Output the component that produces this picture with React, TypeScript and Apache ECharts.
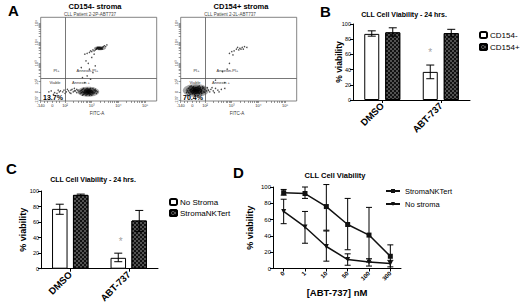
import React, { useEffect, useRef } from 'react';
import * as echarts from 'echarts';

const FONT = '"Liberation Sans", Arial, Helvetica, sans-serif';

// ---------- Panel A: flow cytometry dot plots (axis units 0..100) ----------
const flowXTicks = [0, 10, 21, 44, 67, 90];
const flowXTickLabels = ['-140', '0', '10²', '10³', '10⁴', '10⁵'];
const flowYTicks = [1, 11, 23, 45, 70, 93];
const flowYTickLabels = ['-137', '0', '10²', '10³', '10⁴', '10⁵'];
const gateX = 21;
const gateY = 27.5;

const leftDots: number[][] = [
  [40, 11], [41, 10], [42, 12], [39, 10], [43, 11], [40, 13], [38, 11], [41, 9], [44, 10], [42, 9], [39, 12], [37, 10],
  [43, 13], [45, 11], [41, 12], [40, 8], [38, 9], [44, 12], [42, 14], [36, 11], [46, 10], [43, 8], [39, 14], [41, 14],
  [34, 9], [35, 13], [47, 12], [48, 9], [33, 11], [45, 15], [37, 15], [47, 14], [36, 7], [44, 7], [32, 13], [49, 11],
  [35, 10], [36, 14], [38, 13], [40, 15], [42, 7], [45, 9], [46, 13], [48, 12], [37, 8], [39, 7], [43, 15], [34, 12],
  [30, 12], [28, 11], [26, 13], [24, 12], [22, 11], [20, 13], [27, 14], [25, 10], [29, 15], [31, 10], [23, 14], [19, 11],
  [17, 12], [21, 9], [12, 10], [9, 12], [14, 9], [7, 11], [15, 13], [11, 8], [16, 11], [26, 9], [29, 12], [31, 14],
  [38, 22], [40, 30], [42, 38], [41, 45], [44, 52], [36, 28], [45, 34], [39, 48], [43, 26], [47, 42], [35, 40], [46, 56],
  [49, 63], [50, 62], [51, 64], [52, 63], [48, 62], [53, 64], [50, 64], [47, 61], [52, 62], [54, 65], [49, 64], [51, 62],
  [46, 60], [44, 59], [42, 58], [40, 57], [55, 66], [56, 65], [45, 61], [43, 60], [48, 63], [53, 62], [57, 67], [38, 56],
];
const leftCores: number[][] = [[41, 11]];
const leftUpperCores: number[][] = [[51, 63]];

const rightDots: number[][] = [
  [13, 12], [14, 13], [12, 11], [15, 12], [11, 13], [13, 14], [14, 10], [16, 13], [12, 15], [10, 12], [15, 15], [13, 9],
  [17, 11], [11, 10], [16, 15], [14, 16], [9, 14], [12, 13], [15, 10], [18, 13], [10, 9], [17, 16], [13, 16], [11, 15],
  [6, 12], [7, 15], [5, 10], [8, 17], [19, 15], [20, 11], [21, 14], [8, 8], [18, 9], [9, 18], [16, 18], [22, 12], [6, 7], [19, 17],
  [7, 10], [8, 13], [10, 16], [12, 8], [16, 9], [18, 11], [20, 16], [9, 11], [15, 17], [11, 17], [17, 14], [21, 10],
  [24, 13], [26, 14], [28, 12], [30, 15], [25, 11], [27, 16], [32, 13], [35, 14], [23, 16], [29, 10], [38, 15], [33, 11],
  [30, 25], [36, 35], [42, 45], [45, 55], [40, 38], [38, 22],
  [48, 62], [51, 63], [53, 64], [50, 61], [55, 65], [46, 60], [52, 62], [57, 64], [44, 59], [49, 64], [54, 62], [42, 57],
];
const rightCores: number[][] = [[13, 12.5]];

// ---------- Panel B ----------
const bCategories = ['DMSO', 'ABT-737'];
const bCD154neg = [87, 37];
const bCD154negErr = [[84, 91], [28, 46]];
const bCD154pos = [89, 88];
const bCD154posErr = [[84, 95], [83, 93]];
const bAsterisk = [[1, 67]];

// ---------- Panel C ----------
const cCategories = ['DMSO', 'ABT-737'];
const cNoStroma = [77, 14];
const cNoStromaErr = [[70, 83], [9, 20]];
const cStroma = [95, 62];
const cStromaErr = [[94, 96], [48, 75]];
const cAsterisk = [[1, 39]];

// ---------- Panel D ----------
const dDoses = ['0', '1', '10', '50', '100', '300'];
const dStroma = [93, 92, 76, 54, 41, 15];
const dStromaErr = [[90, 97], [86, 100], [47, 103], [23, 86], [8, 75], [2, 29]];
const dNoStroma = [70, 51, 27, 11, 8, 6];
const dNoStromaErr = [[55, 85], [31, 70], [9, 46], [4, 18], [3, 12], [0, 10]];

const logFractions = [0.301, 0.477, 0.602, 0.699, 0.778, 0.845, 0.903, 0.954];
function minorTicks(decades: number[]) {
  const out: number[] = [];
  for (let i = 0; i < decades.length - 1; i++) {
    const a = decades[i], b = decades[i + 1];
    logFractions.forEach((f) => out.push(a + (b - a) * f));
  }
  return out;
}

const checker = {
  symbol: 'rect',
  symbolSize: 0.55,
  color: '#fff',
  backgroundColor: '#111',
  dashArrayX: [[2, 2], [0, 2, 2, 0]],
  dashArrayY: [2, 0],
  rotation: 0,
};

function errorSeries(idx: number, data: number[][], offset: number, capW: number) {
  return {
    type: 'custom',
    xAxisIndex: idx,
    yAxisIndex: idx,
    z: 5,
    silent: true,
    clip: false,
    encode: { x: 0, y: [1, 2] },
    data: data.map((e, i) => [i, e[0], e[1]]),
    renderItem: (_p: any, api: any) => {
      const x = api.value(0);
      const lo = api.coord([x, api.value(1)]);
      const hi = api.coord([x, api.value(2)]);
      const cx = lo[0] + offset;
      const st = { stroke: '#000', lineWidth: 1 };
      return {
        type: 'group',
        children: [
          { type: 'line', shape: { x1: cx, y1: lo[1], x2: cx, y2: hi[1] }, style: st },
          { type: 'line', shape: { x1: cx - capW / 2, y1: hi[1], x2: cx + capW / 2, y2: hi[1] }, style: st },
          { type: 'line', shape: { x1: cx - capW / 2, y1: lo[1], x2: cx + capW / 2, y2: lo[1] }, style: st },
        ],
      };
    },
  };
}

function flowAxes(grid: number) {
  const xMinor = minorTicks([21, 44, 67, 90]);
  const yMinor = minorTicks([23, 45, 70, 93]);
  return {
    x: {
      type: 'value', gridIndex: grid, min: 0, max: 100,
      axisLine: { show: false }, splitLine: { show: false },
      axisTick: { show: true, length: 2, customValues: [...flowXTicks, 3, 6, 13, 16, ...xMinor], lineStyle: { color: '#555', width: 0.6 } },
      axisLabel: {
        customValues: flowXTicks, fontSize: 4, margin: 2, color: '#333', fontFamily: FONT,
        formatter: (v: number) => flowXTickLabels[flowXTicks.indexOf(v)] ?? '',
      },
    },
    y: {
      type: 'value', gridIndex: grid, min: 0, max: 100,
      axisLine: { show: false }, splitLine: { show: false },
      axisTick: { show: true, length: 2, customValues: [...flowYTicks, ...yMinor], lineStyle: { color: '#555', width: 0.6 } },
      axisLabel: {
        customValues: flowYTicks, fontSize: 4, margin: 2, rotate: 90, color: '#333', fontFamily: FONT,
        formatter: (v: number) => flowYTickLabels[flowYTicks.indexOf(v)] ?? '',
      },
    },
  };
}

// density cloud drawn as stacked translucent ellipses around a cluster centre
function cloud(grid: number, data: number[][], rings: number[][]) {
  return {
    type: 'custom', xAxisIndex: grid, yAxisIndex: grid, silent: true, z: 4,
    encode: { x: 0, y: 1 },
    data,
    renderItem: (_p: any, api: any) => {
      const c = api.coord([api.value(0), api.value(1)]);
      return {
        type: 'group',
        children: rings.map((r) => ({
          type: 'ellipse',
          shape: { cx: c[0], cy: c[1], rx: r[0], ry: r[1] },
          style: { fill: `rgba(0,0,0,${r[2]})`, stroke: 'none', lineWidth: 0 },
        })),
      };
    },
  };
}

function dotSeries(grid: number, dots: number[][]) {
  return {
    type: 'scatter', xAxisIndex: grid, yAxisIndex: grid, silent: true, data: dots,
    symbolSize: 1.5, itemStyle: { color: '#222', opacity: 0.8, borderWidth: 0 }, z: 3,
    markLine: {
      silent: true, symbol: 'none', label: { show: false },
      lineStyle: { color: '#555', width: 0.8, type: 'solid' },
      data: [{ xAxis: gateX }, { yAxis: gateY }],
    },
  };
}

function txt(text: string, x: number, y: number, size: number, bold = false, align = 'center', color = '#000', rotation = 0) {
  return {
    type: 'text', x, y, rotation, silent: true, z: 100,
    style: {
      text, fill: color, font: `${bold ? 'bold ' : ''}${size}px ${FONT}`,
      textAlign: align, textVerticalAlign: 'middle',
    },
  };
}

export default function App() {
  const ref = useRef<HTMLDivElement>(null);
  useEffect(() => {
    if (!ref.current) return;
    const chart = echarts.init(ref.current, undefined, { renderer: 'svg' });
    const fa = flowAxes(0);
    const fb = flowAxes(1);
    const barYAxis = (grid: number, name: string, gap: number, labelSize: number, nameSize: number) => ({
      type: 'value', gridIndex: grid, min: 0, max: 100, interval: 20,
      name, nameLocation: 'middle', nameGap: gap, nameMoveOverlap: false,
      nameTextStyle: { fontSize: nameSize, fontWeight: 'bold', fontFamily: FONT, color: '#000' },
      axisLine: { show: true, lineStyle: { color: '#000', width: 1 } },
      axisTick: { show: true, length: 3, lineStyle: { color: '#000' } },
      axisLabel: { fontSize: labelSize, margin: 2, color: '#000', fontFamily: FONT },
      splitLine: { show: false },
    });
    const catXAxis = (grid: number, data: string[], size: number, extra: any = {}) => ({
      type: 'category', gridIndex: grid, data,
      axisLine: { show: true, lineStyle: { color: '#000', width: 1 } },
      axisTick: { show: true, alignWithLabel: true, length: 3, lineStyle: { color: '#000' } },
      axisLabel: { rotate: 45, interval: 0, fontSize: size, fontWeight: 'bold', color: '#000', fontFamily: FONT, margin: 4 },
      ...extra,
    });

    const option: any = {
      animation: false,
      backgroundColor: '#fff',
      textStyle: { fontFamily: FONT },
      grid: [
        { left: 40.7, top: 17.3, width: 116, height: 83.7, show: true, borderColor: '#666', borderWidth: 0.8, backgroundColor: 'transparent' },
        { left: 180.7, top: 17.3, width: 116, height: 83.7, show: true, borderColor: '#666', borderWidth: 0.8, backgroundColor: 'transparent' },
        { left: 353, top: 24, width: 117, height: 76 },
        { left: 41, top: 191, width: 117, height: 77.7 },
        { left: 273, top: 187, width: 128, height: 81.5 },
      ],
      xAxis: [
        fa.x, fb.x,
        catXAxis(2, bCategories, 9.5),
        catXAxis(3, cCategories, 9.5),
        catXAxis(4, dDoses, 6, {
          name: '[ABT-737] nM', nameLocation: 'middle', nameGap: 19, nameMoveOverlap: false,
          nameTextStyle: { fontSize: 9.5, fontWeight: 'bold', fontFamily: FONT, color: '#000' },
        }),
      ],
      yAxis: [
        fa.y, fb.y,
        barYAxis(2, '', 12, 5.5, 8.5),
        barYAxis(3, '% viability', 14, 5.5, 9),
        barYAxis(4, '% viability', 18.5, 6, 9),
      ],
      legend: [
        {
          left: 474, top: 26, orient: 'vertical', itemWidth: 7, itemHeight: 6, itemGap: 4,
          data: ['CD154-', 'CD154+'], selectedMode: false,
          textStyle: { fontSize: 8, color: '#000', fontFamily: FONT, padding: [0, 0, 0, -2] },
        },
        {
          left: 164, top: 193, orient: 'vertical', itemWidth: 7, itemHeight: 6, itemGap: 3,
          data: ['No Stroma', 'StromaNKTert'], selectedMode: false,
          textStyle: { fontSize: 8, color: '#000', fontFamily: FONT, padding: [0, 0, 0, -2] },
        },
        {
          left: 380, top: 182, orient: 'vertical', itemWidth: 14, itemHeight: 5, itemGap: 5,
          data: ['D:StromaNKTert', 'D:No stroma'], selectedMode: false,
          formatter: (n: string) => n.replace('D:', ''),
          textStyle: { fontSize: 7.5, color: '#000', fontFamily: FONT },
        },
      ],
      series: [
        cloud(0, leftCores, [[11, 5, 0.35], [8, 3.8, 0.45], [5, 2.6, 0.6], [2.5, 1.5, 0.7]]),
        cloud(0, leftUpperCores, [[6, 2, 0.4], [3, 1.2, 0.6]]),
        dotSeries(0, leftDots),
        cloud(1, rightCores, [[13, 6.5, 0.35], [10, 5, 0.45], [6.5, 3.5, 0.6], [3.5, 2, 0.7]]),
        dotSeries(1, rightDots),
        // Panel B
        {
          name: 'CD154-', type: 'bar', xAxisIndex: 2, yAxisIndex: 2, data: bCD154neg, barWidth: 15, barGap: '40%',
          itemStyle: { color: '#fff', borderColor: '#000', borderWidth: 1 },
        },
        {
          name: 'CD154+', type: 'bar', xAxisIndex: 2, yAxisIndex: 2, data: bCD154pos, barWidth: 15, barGap: '40%',
          itemStyle: { color: '#111', borderColor: '#000', borderWidth: 1, decal: checker },
        },
        errorSeries(2, bCD154negErr, -10.5, 8),
        errorSeries(2, bCD154posErr, 10.5, 8),
        {
          type: 'scatter', xAxisIndex: 2, yAxisIndex: 2, data: bAsterisk, symbolSize: 1, silent: true,
          itemStyle: { color: 'transparent' },
          label: { show: true, formatter: '*', position: 'inside', offset: [-10.5, 3], fontSize: 10, color: '#888' },
        },
        // Panel C
        {
          name: 'No Stroma', type: 'bar', xAxisIndex: 3, yAxisIndex: 3, data: cNoStroma, barWidth: 15.5, barGap: '35%',
          itemStyle: { color: '#fff', borderColor: '#000', borderWidth: 1 },
        },
        {
          name: 'StromaNKTert', type: 'bar', xAxisIndex: 3, yAxisIndex: 3, data: cStroma, barWidth: 15.5, barGap: '35%',
          itemStyle: { color: '#111', borderColor: '#000', borderWidth: 1, decal: checker },
        },
        errorSeries(3, cNoStromaErr, -10.5, 8),
        errorSeries(3, cStromaErr, 10.5, 8),
        {
          type: 'scatter', xAxisIndex: 3, yAxisIndex: 3, data: cAsterisk, symbolSize: 1, silent: true,
          itemStyle: { color: 'transparent' },
          label: { show: true, formatter: '*', position: 'inside', offset: [-8, 3], fontSize: 10, color: '#888' },
        },
        // Panel D
        errorSeries(4, dStromaErr, 0, 6),
        errorSeries(4, dNoStromaErr, 0, 6),
        {
          name: 'D:StromaNKTert', type: 'line', xAxisIndex: 4, yAxisIndex: 4, data: dStroma, z: 6,
          symbol: 'rect', symbolSize: 5, lineStyle: { color: '#111', width: 1.5 }, itemStyle: { color: '#111' },
        },
        {
          name: 'D:No stroma', type: 'line', xAxisIndex: 4, yAxisIndex: 4, data: dNoStroma, z: 6,
          symbol: 'triangle', symbolRotate: 180, symbolSize: 5, lineStyle: { color: '#111', width: 1.5 }, itemStyle: { color: '#111' },
        },
      ],
      graphic: [
        txt('A', 8, 10, 15, true, 'left'),
        txt('B', 320, 11, 15, true, 'left'),
        txt('C', 6, 168, 15, true, 'left'),
        txt('D', 233, 172, 15, true, 'left'),
        txt('CD154- stroma', 95, 6, 7.5, true),
        txt('CD154+ stroma', 241, 6, 7.5, true),
        txt('CLL Patient 2-2P-ABT737', 90, 14.5, 4.5, false, 'center', '#444'),
        txt('CLL Patient 2-2L-ABT737', 230, 14.5, 4.5, false, 'center', '#444'),
        txt('PI+', 56.5, 70.7, 4, false, 'center', '#333'),
        txt('Annexin-PI+', 87.5, 70.7, 4, false, 'center', '#333'),
        txt('Viable', 55, 82.7, 4, false, 'center', '#333'),
        txt('Annexin +', 81, 82.7, 4, false, 'center', '#333'),
        txt('PI+', 196.5, 70.7, 4, false, 'center', '#333'),
        txt('Annexin-PI+', 227.5, 70.7, 4, false, 'center', '#333'),
        txt('Viable', 195, 82.7, 4, false, 'center', '#333'),
        txt('Annexin +', 221, 82.7, 4, false, 'center', '#333'),
        txt('13.7%', 53, 97.7, 7, true),
        txt('70.4%', 193, 97.7, 7, true),
        txt('FITC-A', 97, 113, 4.5, false, 'center', '#333'),
        txt('FITC-A', 237, 113, 4.5, false, 'center', '#333'),
        txt('CLL Cell Viability - 24 hrs.', 404, 14, 7, true),
        txt('CLL Cell Viability - 24 hrs.', 93, 179, 7, true),
        txt('CLL Cell Viability', 335, 175, 7.5, true),
        txt('% viability', 339, 62, 8.5, true, 'center', '#000', Math.PI / 2),
      ],
    };
    chart.setOption(option);
    return () => chart.dispose();
  }, []);
  return <div ref={ref} style={{ position: 'fixed', left: 0, top: 0, width: 520, height: 306, background: '#fff' }} />;
}
